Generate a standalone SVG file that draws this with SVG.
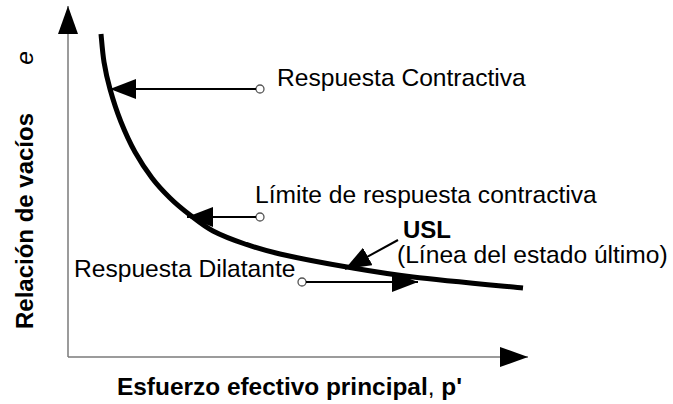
<svg xmlns="http://www.w3.org/2000/svg" width="673" height="404" viewBox="0 0 673 404">
<style>
  .t { font-family: "Liberation Sans", Arial, sans-serif; font-size: 24.6px; fill: #000; }
  .b { font-weight: bold; font-size: 24px; }
  .axis { stroke: #7a7a7a; stroke-width: 1.5; fill: none; }
  .conn { stroke: #000; stroke-width: 2; fill: none; marker-end: url(#ah); }
  .dot { fill: #fff; stroke: #555; stroke-width: 1.3; }
  .curve { stroke: #000; stroke-width: 5; fill: none; }
</style>
<defs>
  <marker id="ah" viewBox="0 0 26 20" refX="26" refY="10" markerWidth="26" markerHeight="20" markerUnits="userSpaceOnUse" orient="auto">
    <path d="M0,0 L26,10 L0,20 Z" fill="#000"/>
  </marker>
  <marker id="axh" viewBox="0 0 28 20" refX="28" refY="10" markerWidth="28" markerHeight="20" markerUnits="userSpaceOnUse" orient="auto">
    <path d="M0,0 L28,10 L0,20 Z" fill="#000"/>
  </marker>
</defs>
<rect width="673" height="404" fill="#fff"/>
<g id="axes">
  <path class="axis" d="M68,357 L68,6" marker-end="url(#axh)"/>
  <path class="axis" d="M68,357 L528,357" marker-end="url(#axh)"/>
</g>
<g id="usl-curve">
  <path class="curve" d="M101,34 C101.5,38.7 102.5,52.8 104,62 C105.5,71.2 107.2,79 110,89 C112.8,99 116.8,111.5 121,122 C125.2,132.5 129.8,142.7 135,152 C140.2,161.3 146.2,170.3 152,178 C157.8,185.7 163.7,191.8 170,198 C176.3,204.2 182.8,209.5 190,215 C197.2,220.5 203.8,226.2 213,231 C222.2,235.8 233.8,240.2 245,244 C256.2,247.8 263,250.2 280,254 C297,257.8 324.8,263.2 347,267 C369.2,270.8 383.7,273.5 413,277 C442.3,280.5 504.7,286.2 523,288"/>
</g>
<g id="label-y">
  <text class="t b" transform="translate(33,221) rotate(-90)" text-anchor="middle">Relación de vacíos</text>
  <text class="t" font-style="italic" transform="translate(33,58) rotate(-90)" text-anchor="middle">e</text>
</g>
<g id="label-x">
  <text class="t b" x="117" y="395" textLength="345" lengthAdjust="spacingAndGlyphs">Esfuerzo efectivo principal<tspan font-weight="normal">, </tspan>p'</text>
</g>
<g id="respuesta-contractiva">
  <circle class="dot" cx="260" cy="89" r="4"/>
  <text class="t" x="277" y="86">Respuesta Contractiva</text>
</g>
<g id="limite-respuesta-contractiva">
  <circle class="dot" cx="260" cy="217" r="4"/>
  <text class="t" x="255" y="203">Límite de respuesta contractiva</text>
</g>
<g id="usl">
  <text class="t b" x="403" y="238">USL</text>
  <text class="t" x="397" y="263">(Línea del estado último)</text>
</g>
<g id="respuesta-dilatante">
  <circle class="dot" cx="302" cy="282" r="4"/>
  <text class="t" x="74" y="277">Respuesta Dilatante</text>
</g>
<g id="connectors">
  <path class="conn" d="M256,89 L110,89"/>
  <path class="conn" d="M256,217 L187,217"/>
  <path class="conn" d="M398,240 L345,269"/>
  <path class="conn" d="M306,282 L418,282"/>
</g>
</svg>
